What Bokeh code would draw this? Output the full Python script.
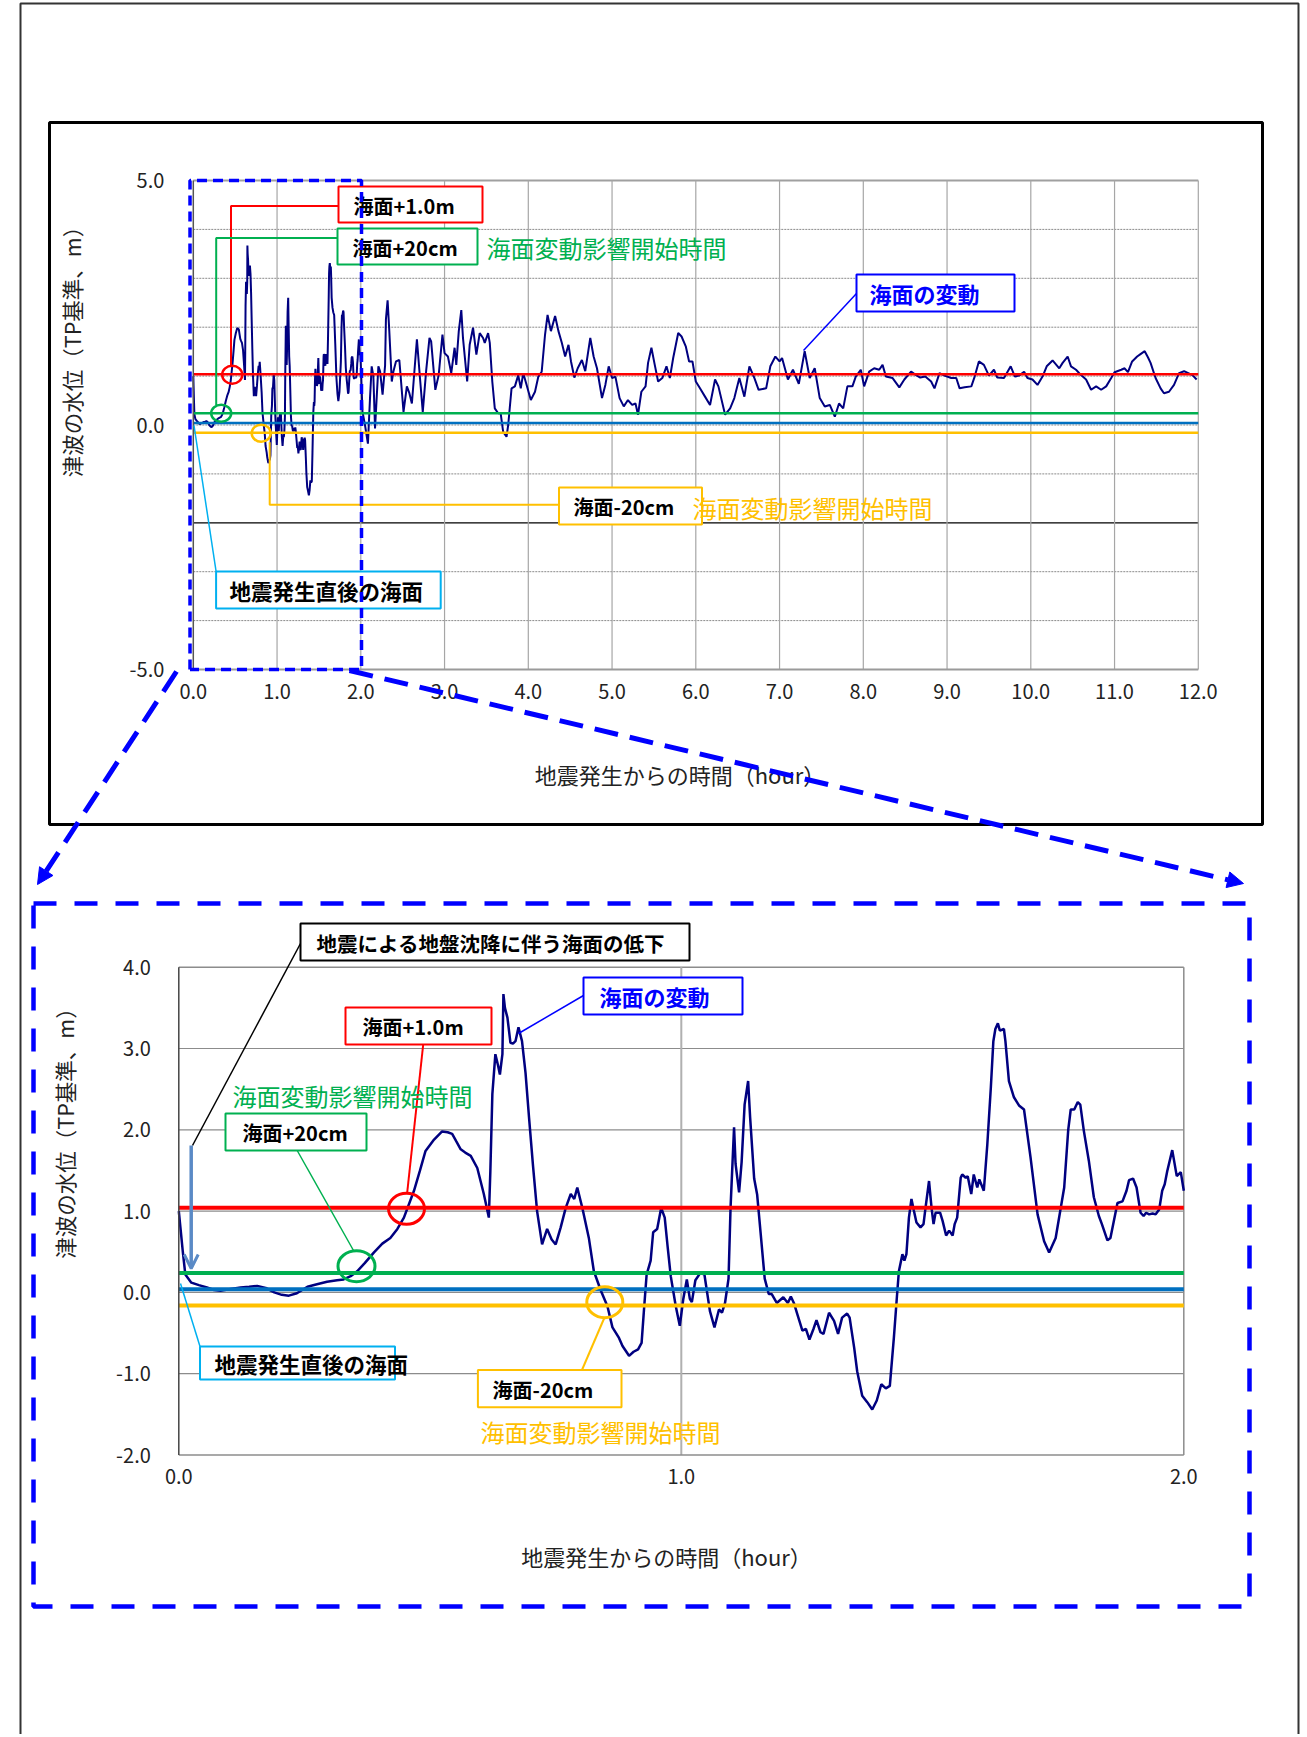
from bokeh.plotting import figure
from bokeh.models import Range1d, LinearAxis, FixedTicker, Arrow, NormalHead, OpenHead
from bokeh.core.properties import value
from bokeh.embed import file_html
from bokeh.resources import INLINE

# ---------------- data ----------------
# first two hours (detailed view, hours / metres TP)
ZOOM_HOURS = [0.000, 0.004, 0.008, 0.013, 0.025, 0.040, 0.056, 0.070, 0.083, 0.100,
              0.123, 0.140, 0.156, 0.175, 0.190, 0.205, 0.219, 0.235, 0.256, 0.275,
              0.295, 0.315, 0.328, 0.342, 0.355, 0.370, 0.388, 0.405, 0.421, 0.435,
              0.448, 0.468, 0.480, 0.491, 0.508, 0.524, 0.535, 0.544, 0.552, 0.561,
              0.570, 0.581, 0.594, 0.607, 0.617, 0.620, 0.624, 0.630, 0.635, 0.639,
              0.644, 0.646, 0.649, 0.654, 0.660, 0.665, 0.670, 0.676, 0.683, 0.690,
              0.697, 0.705, 0.713, 0.723, 0.733, 0.742, 0.750, 0.760, 0.770, 0.780,
              0.787, 0.793, 0.803, 0.816, 0.826, 0.840, 0.853, 0.863, 0.876, 0.883,
              0.896, 0.905, 0.914, 0.921, 0.926, 0.931, 0.939, 0.944, 0.952, 0.960,
              0.967, 0.973, 0.979, 0.989, 0.997, 1.004, 1.011, 1.017, 1.021, 1.028,
              1.038, 1.046, 1.057, 1.066, 1.075, 1.081, 1.087, 1.094, 1.098, 1.105,
              1.108, 1.115, 1.120, 1.126, 1.133, 1.137, 1.145, 1.151, 1.158, 1.166,
              1.174, 1.180, 1.190, 1.203, 1.212, 1.218, 1.224, 1.231, 1.241, 1.248,
              1.255, 1.263, 1.269, 1.277, 1.283, 1.294, 1.304, 1.312, 1.320, 1.330,
              1.335, 1.344, 1.350, 1.360, 1.370, 1.380, 1.389, 1.398, 1.407, 1.415,
              1.423, 1.429, 1.433, 1.440, 1.444, 1.448, 1.453, 1.458, 1.463, 1.468,
              1.476, 1.482, 1.486, 1.493, 1.498, 1.502, 1.506, 1.515, 1.520, 1.527,
              1.533, 1.540, 1.544, 1.549, 1.556, 1.559, 1.566, 1.570, 1.577, 1.582,
              1.589, 1.593, 1.602, 1.609, 1.616, 1.621, 1.625, 1.630, 1.634, 1.642,
              1.645, 1.652, 1.662, 1.672, 1.682, 1.695, 1.709, 1.722, 1.732, 1.745,
              1.762, 1.770, 1.775, 1.782, 1.785, 1.789, 1.794, 1.801, 1.811, 1.821,
              1.831, 1.837, 1.848, 1.854, 1.868, 1.878, 1.886, 1.891, 1.899, 1.906,
              1.914, 1.920, 1.925, 1.931, 1.938, 1.944, 1.951, 1.957, 1.962, 1.967,
              1.977, 1.986, 1.994, 2.000]
ZOOM_LEVEL = [1.00, 0.75, 0.50, 0.22, 0.12, 0.09, 0.06, 0.03, 0.02, 0.04,
              0.06, 0.07, 0.08, 0.05, 0.00, -0.03, -0.04, -0.01, 0.07, 0.10,
              0.13, 0.15, 0.16, 0.20, 0.26, 0.36, 0.49, 0.60, 0.67, 0.78,
              0.92, 1.25, 1.50, 1.74, 1.88, 1.98, 1.97, 1.95, 1.86, 1.76,
              1.72, 1.68, 1.53, 1.21, 0.92, 1.49, 2.44, 2.93, 2.80, 2.68,
              2.93, 3.67, 3.50, 3.38, 3.07, 3.06, 3.09, 3.26, 3.09, 2.70,
              2.15, 1.55, 1.00, 0.59, 0.78, 0.65, 0.59, 0.80, 1.04, 1.21,
              1.15, 1.29, 1.04, 0.67, 0.26, 0.02, -0.17, -0.43, -0.56, -0.66,
              -0.78, -0.73, -0.70, -0.62, -0.19, 0.22, 0.39, 0.74, 0.78, 1.04,
              0.92, 0.55, 0.20, -0.17, -0.41, -0.08, 0.16, -0.08, -0.12, 0.15,
              0.24, 0.22, -0.23, -0.43, -0.21, -0.25, -0.13, 0.17, 1.04, 2.03,
              1.58, 1.23, 1.60, 2.31, 2.60, 2.15, 1.40, 1.20, 0.72, 0.17,
              -0.02, -0.02, -0.13, -0.06, -0.13, -0.05, -0.13, -0.27, -0.47, -0.45,
              -0.58, -0.45, -0.34, -0.49, -0.51, -0.25, -0.35, -0.51, -0.31, -0.26,
              -0.31, -0.68, -0.97, -1.27, -1.35, -1.44, -1.33, -1.13, -1.18, -1.15,
              -0.56, -0.06, 0.26, 0.47, 0.39, 0.47, 0.92, 1.15, 1.00, 0.86,
              0.80, 0.84, 1.04, 1.37, 1.04, 0.84, 0.98, 0.98, 0.88, 0.70,
              0.76, 0.70, 0.84, 0.92, 1.41, 1.45, 1.41, 1.43, 1.21, 1.45,
              1.29, 1.39, 1.25, 1.82, 2.52, 3.09, 3.24, 3.31, 3.22, 3.24,
              3.09, 2.60, 2.40, 2.30, 2.25, 1.66, 0.96, 0.63, 0.49, 0.67,
              1.29, 2.00, 2.25, 2.25, 2.29, 2.34, 2.31, 1.99, 1.62, 1.17,
              0.94, 0.84, 0.64, 0.67, 1.10, 1.12, 1.25, 1.38, 1.40, 1.29,
              0.98, 0.94, 0.98, 0.96, 0.97, 0.96, 1.02, 1.25, 1.33, 1.49,
              1.75, 1.43, 1.48, 1.25]

# 2 h to 12 h (overview only)
TAIL_HOURS = [2.02, 2.05, 2.085, 2.11, 2.13, 2.15, 2.17, 2.21, 2.23, 2.26,
              2.29, 2.30, 2.32, 2.34, 2.37, 2.39, 2.42, 2.46, 2.51, 2.55,
              2.58, 2.61, 2.64, 2.67, 2.71, 2.74, 2.78, 2.82, 2.84, 2.89,
              2.93, 2.975, 3.00, 3.04, 3.08, 3.12, 3.14, 3.17, 3.20, 3.22,
              3.27, 3.30, 3.34, 3.38, 3.42, 3.46, 3.48, 3.52, 3.54, 3.57,
              3.60, 3.64, 3.67, 3.70, 3.74, 3.76, 3.80, 3.84, 3.88, 3.91,
              3.94, 3.98, 4.03, 4.08, 4.12, 4.16, 4.20, 4.23, 4.27, 4.32,
              4.36, 4.40, 4.44, 4.48, 4.51, 4.55, 4.59, 4.64, 4.68, 4.74,
              4.78, 4.82, 4.88, 4.92, 4.96, 5.00, 5.04, 5.09, 5.14, 5.19,
              5.24, 5.28, 5.31, 5.35, 5.40, 5.43, 5.47, 5.51, 5.55, 5.60,
              5.65, 5.69, 5.73, 5.79, 5.83, 5.88, 5.92, 5.96, 6.00, 6.05,
              6.11, 6.17, 6.23, 6.27, 6.35, 6.41, 6.46, 6.52, 6.58, 6.64,
              6.70, 6.75, 6.84, 6.89, 6.95, 7.00, 7.03, 7.10, 7.16, 7.23,
              7.30, 7.36, 7.42, 7.48, 7.54, 7.60, 7.66, 7.71, 7.76, 7.81,
              7.87, 7.91, 7.97, 8.01, 8.07, 8.13, 8.19, 8.23, 8.27, 8.35,
              8.43, 8.49, 8.57, 8.63, 8.68, 8.74, 8.81, 8.85, 8.91, 8.97,
              9.05, 9.11, 9.15, 9.21, 9.29, 9.33, 9.38, 9.44, 9.50, 9.56,
              9.60, 9.68, 9.76, 9.81, 9.86, 9.92, 9.96, 10.02, 10.08, 10.14,
              10.19, 10.26, 10.34, 10.38, 10.44, 10.48, 10.54, 10.60, 10.66, 10.72,
              10.78, 10.84, 10.90, 10.96, 11.00, 11.08, 11.12, 11.16, 11.21, 11.27,
              11.31, 11.36, 11.40, 11.43, 11.49, 11.55, 11.59, 11.65, 11.71, 11.77,
              11.83, 11.88, 11.93, 11.98]
TAIL_LEVEL = [0.27, 0.00, -0.38, 0.55, 1.20, 1.00, -0.07, 1.20, 1.10, 0.62,
              1.22, 2.16, 2.55, 1.93, 0.89, 1.10, 1.30, 1.33, 0.27, 0.79,
              0.65, 0.44, 1.10, 1.75, 0.89, 0.27, 1.10, 1.78, 1.71, 0.72,
              1.02, 1.85, 1.47, 1.40, 1.06, 1.58, 1.23, 1.92, 2.35, 1.78,
              0.89, 1.64, 1.99, 1.44, 1.88, 1.78, 1.68, 1.88, 1.68, 0.89,
              0.34, 0.24, 0.24, -0.14, -0.24, 0.00, 0.75, 0.79, 1.02, 0.75,
              1.06, 0.82, 0.51, 0.68, 0.99, 1.09, 1.85, 2.25, 1.92, 2.23,
              1.92, 1.68, 1.40, 1.64, 1.30, 0.97, 1.16, 1.33, 1.10, 1.78,
              1.40, 1.16, 0.55, 0.82, 1.20, 0.96, 0.99, 0.55, 0.38, 0.51,
              0.41, 0.44, 0.21, 0.68, 0.79, 1.27, 1.58, 1.23, 0.89, 0.96,
              1.20, 0.96, 1.37, 1.88, 1.81, 1.61, 1.30, 1.30, 0.89, 0.75,
              0.58, 0.41, 0.93, 0.79, 0.21, 0.34, 0.55, 0.96, 0.58, 1.20,
              0.96, 0.72, 0.75, 1.20, 1.40, 1.30, 1.37, 0.93, 1.13, 0.84,
              1.51, 0.96, 1.16, 0.55, 0.38, 0.41, 0.17, 0.44, 0.34, 0.79,
              0.79, 0.99, 1.13, 0.79, 1.09, 1.16, 1.13, 1.23, 0.99, 0.96,
              0.77, 0.93, 1.09, 1.02, 0.97, 0.99, 0.89, 0.75, 1.06, 1.01,
              0.96, 0.96, 0.75, 0.77, 0.79, 0.99, 1.30, 1.23, 1.01, 1.13,
              0.97, 0.96, 1.20, 0.99, 1.01, 1.09, 0.96, 0.93, 0.82, 0.99,
              1.20, 1.32, 1.16, 1.27, 1.40, 1.20, 1.13, 1.02, 0.93, 0.72,
              0.79, 0.72, 0.79, 0.96, 1.08, 1.13, 1.16, 1.08, 1.30, 1.40,
              1.45, 1.51, 1.38, 1.27, 0.96, 0.75, 0.65, 0.68, 0.82, 1.06,
              1.10, 1.06, 1.02, 0.93]

# reference sea levels (m)
LEVEL_NAMES = ["海面+1.0m", "海面+20cm", "地震発生直後の海面", "海面-20cm"]
LEVEL_VALUES = [1.04, 0.24, 0.04, -0.16]
LEVEL_COLORS = ["#FF0000", "#00B050", "#0070C0", "#FFC000"]

# axes
TOP_XTICKS = [0, 1, 2, 3, 4, 5, 6, 7, 8, 9, 10, 11, 12]
TOP_XLABELS = ["0.0", "1.0", "2.0", "3.0", "4.0", "5.0", "6.0", "7.0", "8.0",
               "9.0", "10.0", "11.0", "12.0"]
TOP_YTICKS = [-5, 0, 5]
TOP_YLABELS = ["-5.0", "0.0", "5.0"]
TOP_YGRID = [-4, -3, -1, 0, 1, 2, 3, 4]
TOP_YGRID_DARK = [-2]
BOT_XTICKS = [0, 1, 2]
BOT_XLABELS = ["0.0", "1.0", "2.0"]
BOT_YTICKS = [-2, -1, 0, 1, 2, 3, 4]
BOT_YLABELS = ["-2.0", "-1.0", "0.0", "1.0", "2.0", "3.0", "4.0"]
X_TITLE = "地震発生からの時間（hour）"
Y_TITLE = "津波の水位（TP基準、m）"

# ---------------- page layout (pixels on the page) ----------------
OFF = 0
PW, PH = 1302, 1734
FONT = "Noto Sans CJK JP"


def fit_range(d0, d1, p0, p1, f0, f1):
    k = (d1 - d0) / (p1 - p0)
    return Range1d(start=d0 + (f0 - p0) * k, end=d0 + (f1 - p0) * k)


p = figure(width=PW, height=PH,
           x_range=Range1d(OFF, OFF + PW), y_range=Range1d(OFF + PH, OFF),
           x_axis_type=None, y_axis_type=None,
           output_backend="svg", toolbar_location=None, min_border=0,
           outline_line_color=None, background_fill_color="white",
           border_fill_color="white")
p.extra_x_ranges = {"tx": fit_range(0, 12, 192.8, 1197.8, OFF, OFF + PW),
                    "bx": fit_range(0, 2, 178.3, 1183.3, OFF, OFF + PW)}
p.extra_y_ranges = {"ty": fit_range(-5, 5, 669.0, 180.0, OFF + PH, OFF),
                    "by": fit_range(-2, 4, 1454.5, 966.7, OFF + PH, OFF)}
T = dict(x_range_name="tx", y_range_name="ty")
B = dict(x_range_name="bx", y_range_name="by")

# ---------------- frames ----------------
p.quad(left=[20], right=[1298], top=[3], bottom=[1760], fill_color=None,
       line_color="#333333", line_width=2)
p.quad(left=[49], right=[1262], top=[122], bottom=[824], fill_color=None,
       line_color="black", line_width=3)

# ---------------- top chart ----------------
p.segment(x0=[0] * len(TOP_YGRID), x1=[12] * len(TOP_YGRID), y0=TOP_YGRID, y1=TOP_YGRID,
          line_color="#8a8a8a", line_width=1, line_dash="2 1", **T)
p.segment(x0=[0], x1=[12], y0=TOP_YGRID_DARK, y1=TOP_YGRID_DARK,
          line_color="black", line_width=1.2, **T)
p.segment(x0=[0], x1=[12], y0=[5], y1=[5], line_color="#a0a0a0", line_width=2, **T)
p.segment(x0=TOP_XTICKS[1:], x1=TOP_XTICKS[1:], y0=[-5] * 12, y1=[5] * 12,
          line_color="#a6a6a6", line_width=1.2, **T)
p.line(ZOOM_HOURS + TAIL_HOURS, ZOOM_LEVEL + TAIL_LEVEL, line_color="#000080",
       line_width=2, **T)
p.segment(x0=[0] * 4, x1=[12] * 4, y0=LEVEL_VALUES, y1=LEVEL_VALUES,
          line_color=LEVEL_COLORS, line_width=2.5, **T)
# axis lines
p.segment(x0=[0], x1=[12], y0=[-5], y1=[-5], line_color="#9a9a9a", line_width=2, **T)
p.segment(x0=[0], x1=[0], y0=[-5], y1=[5], line_color="#555555", line_width=1.5, **T)

# (bounds are widened on the lower/upper side so the titles sit where the reference has them)
ax = LinearAxis(fixed_location=-5, bounds=(-0.38, 12), ticker=FixedTicker(ticks=TOP_XTICKS),
                major_label_overrides=dict(zip(TOP_XTICKS, TOP_XLABELS)),
                axis_label=X_TITLE, **T)
p.add_layout(ax, "below")
ay = LinearAxis(fixed_location=0, bounds=(-5, 8.21), ticker=FixedTicker(ticks=TOP_YTICKS),
                major_label_overrides=dict(zip(TOP_YTICKS, TOP_YLABELS)),
                axis_label=Y_TITLE, **T)
p.add_layout(ay, "left")

# ---------------- bottom chart ----------------
p.segment(x0=[0] * 5, x1=[2] * 5, y0=BOT_YTICKS[1:6], y1=BOT_YTICKS[1:6],
          line_color="#8c8c8c", line_width=1.2, **B)
p.segment(x0=[0], x1=[2], y0=[4], y1=[4], line_color="#8c8c8c", line_width=1.5, **B)
p.segment(x0=[1], x1=[1], y0=[-2], y1=[4], line_color="#b0b0b0", line_width=2, **B)
p.segment(x0=[2], x1=[2], y0=[-2], y1=[4], line_color="#8c8c8c", line_width=1.5, **B)
p.line(ZOOM_HOURS, ZOOM_LEVEL, line_color="#000080", line_width=2.5, **B)
p.segment(x0=[0] * 4, x1=[2] * 4, y0=LEVEL_VALUES, y1=LEVEL_VALUES,
          line_color=LEVEL_COLORS, line_width=4, **B)
p.segment(x0=[0], x1=[2], y0=[-2], y1=[-2], line_color="#8c8c8c", line_width=1.5, **B)
p.segment(x0=[0], x1=[0], y0=[-2], y1=[4], line_color="#444444", line_width=1.5, **B)

bxax = LinearAxis(fixed_location=-2, bounds=(-0.058, 2), ticker=FixedTicker(ticks=BOT_XTICKS),
                  major_label_overrides=dict(zip(BOT_XTICKS, BOT_XLABELS)),
                  axis_label=X_TITLE, **B)
p.add_layout(bxax, "below")
byax = LinearAxis(fixed_location=0, bounds=(-2, 6.05), ticker=FixedTicker(ticks=BOT_YTICKS),
                  major_label_overrides=dict(zip(BOT_YTICKS, BOT_YLABELS)),
                  axis_label=Y_TITLE, **B)
p.add_layout(byax, "left")

for a in (ax, ay, bxax, byax):
    a.axis_line_color = None
    a.major_tick_line_color = None
    a.minor_tick_line_color = None
    a.major_tick_out = 0
    a.major_tick_in = 0
    a.minor_tick_out = 0
    a.minor_tick_in = 0
    a.major_label_text_font = FONT
    a.major_label_text_font_size = "20px"
    a.major_label_text_color = "#222222"
    a.axis_label_text_font = FONT
    a.axis_label_text_font_style = "normal"
    a.axis_label_text_color = "#222222"
for a in (ax, bxax):
    a.axis_label_text_font_size = "22px"
for a in (ay, byax):
    a.axis_label_text_font_size = "21.5px"
ax.major_label_standoff = 14
ax.axis_label_standoff = 56
ay.major_label_standoff = 29
ay.axis_label_standoff = 40
bxax.major_label_standoff = 14
bxax.axis_label_standoff = 52
byax.major_label_standoff = 28
byax.axis_label_standoff = 33

# ---------------- annotations (page pixels) ----------------
BOLD = dict(text_font=value(FONT), text_font_style="bold", text_baseline="middle",
            text_align="left")
PLAIN = dict(text_font=value(FONT), text_font_style="normal", text_baseline="middle",
             text_align="left")

# leader lines
p.multi_line(
    xs=[[338, 230.5, 230.5], [337, 215.7, 215.7], [856, 803], [558.5, 269.2, 269.2],
        [193.5, 215.6],
        [300, 192], [583, 518], [422.7, 406.7], [296.7, 353], [180, 199.5], [604, 581.7]],
    ys=[[205.5, 205.5, 366], [237.5, 237.5, 404.5], [293, 350], [504.3, 504.3, 441.7],
        [425, 571],
        [943, 1145], [995, 1033], [1044, 1192], [1150, 1250], [1283, 1346], [1317, 1369]],
    line_color=["#FF0000", "#00B050", "#0000FF", "#FFC000", "#00B0F0",
                "black", "#0000FF", "#FF0000", "#00B050", "#00B0F0", "#FFC000"],
    line_width=[2, 2, 1.5, 2, 1.5, 1.5, 1.5, 2, 1.5, 1.5, 2])

# circles marking the crossings
p.ellipse(x=[231.7, 220.7, 260.7, 406, 356, 604.3],
          y=[374.3, 412.7, 432.7, 1208.3, 1265.7, 1301.7],
          width=[20, 20, 19, 36, 37, 36], height=[18, 17, 17, 31, 31, 31],
          fill_color=None,
          line_color=["#FF0000", "#00B050", "#FFC000", "#FF0000", "#00B050", "#FFC000"],
          line_width=[2.5, 2.5, 2.5, 3, 3, 3])

# callout boxes
p.quad(left=[338, 337, 856, 558.5, 215.6, 300, 583, 345, 225, 199.5, 477.4],
       right=[482, 477, 1014, 701.5, 440.2, 689, 742, 491, 366, 394.5, 621],
       top=[186, 228, 274, 487, 571, 923, 977, 1007, 1113, 1346, 1369.5],
       bottom=[222, 264, 311, 524, 608, 960, 1014, 1044, 1150, 1379, 1406.7],
       fill_color="white",
       line_color=["#FF0000", "#00B050", "#0000FF", "#FFC000", "#00B0F0",
                   "black", "#0000FF", "#FF0000", "#00B050", "#00B0F0", "#FFC000"],
       line_width=2)

p.text(x=[353, 352, 573, 362, 242, 492],
       y=[204.5, 246.5, 506, 1026, 1132, 1388.5],
       text=["海面+1.0m", "海面+20cm", "海面-20cm", "海面+1.0m", "海面+20cm", "海面-20cm"],
       text_color="black", text_font_size=value("20px"), **BOLD)
p.text(x=[229, 214], y=[590, 1363],
       text=["地震発生直後の海面", "地震発生直後の海面"],
       text_color="black", text_font_size=value("21.5px"), **BOLD)
p.text(x=[316], y=[942], text=["地震による地盤沈降に伴う海面の低下"],
       text_color="black", text_font_size=value("20.5px"), **BOLD)
p.text(x=[869, 599], y=[292.5, 995.5], text=["海面の変動", "海面の変動"],
       text_color="#0000FF", text_font_size=value("22px"), **BOLD)
p.text(x=[486, 692, 232, 480], y=[247, 507, 1095, 1431],
       text=["海面変動影響開始時間"] * 4,
       text_color=["#00B050", "#FFC000", "#00B050", "#FFC000"],
       text_font_size=value("24px"), **PLAIN)

# subsidence arrow
p.add_layout(Arrow(end=OpenHead(size=14, line_color="#5A8AC6", line_width=3),
                   x_start=190.7, y_start=1145, x_end=190.7, y_end=1268,
                   line_color="#5A8AC6", line_width=3.5))

# zoom frame + connectors
p.line([189.5, 189.5, 361, 361, 189.5], [669, 180, 180, 669, 669],
       line_color="#0000FF", line_width=3.5, line_dash="10 6")
p.quad(left=[33], right=[1249], top=[903], bottom=[1606], fill_color=None,
       line_color="#0000FF", line_width=4.5, line_dash="23 18")
for xs, ys, xe, ye in [(176, 671, 37, 884), (349, 670, 1243, 883)]:
    p.add_layout(Arrow(end=NormalHead(size=16, fill_color="#0000FF", line_color="#0000FF"),
                       x_start=xs, y_start=ys, x_end=xe, y_end=ye,
                       line_color="#0000FF", line_width=5, line_dash="24 12"))

open("out.html", "w").write(file_html(p, INLINE))
